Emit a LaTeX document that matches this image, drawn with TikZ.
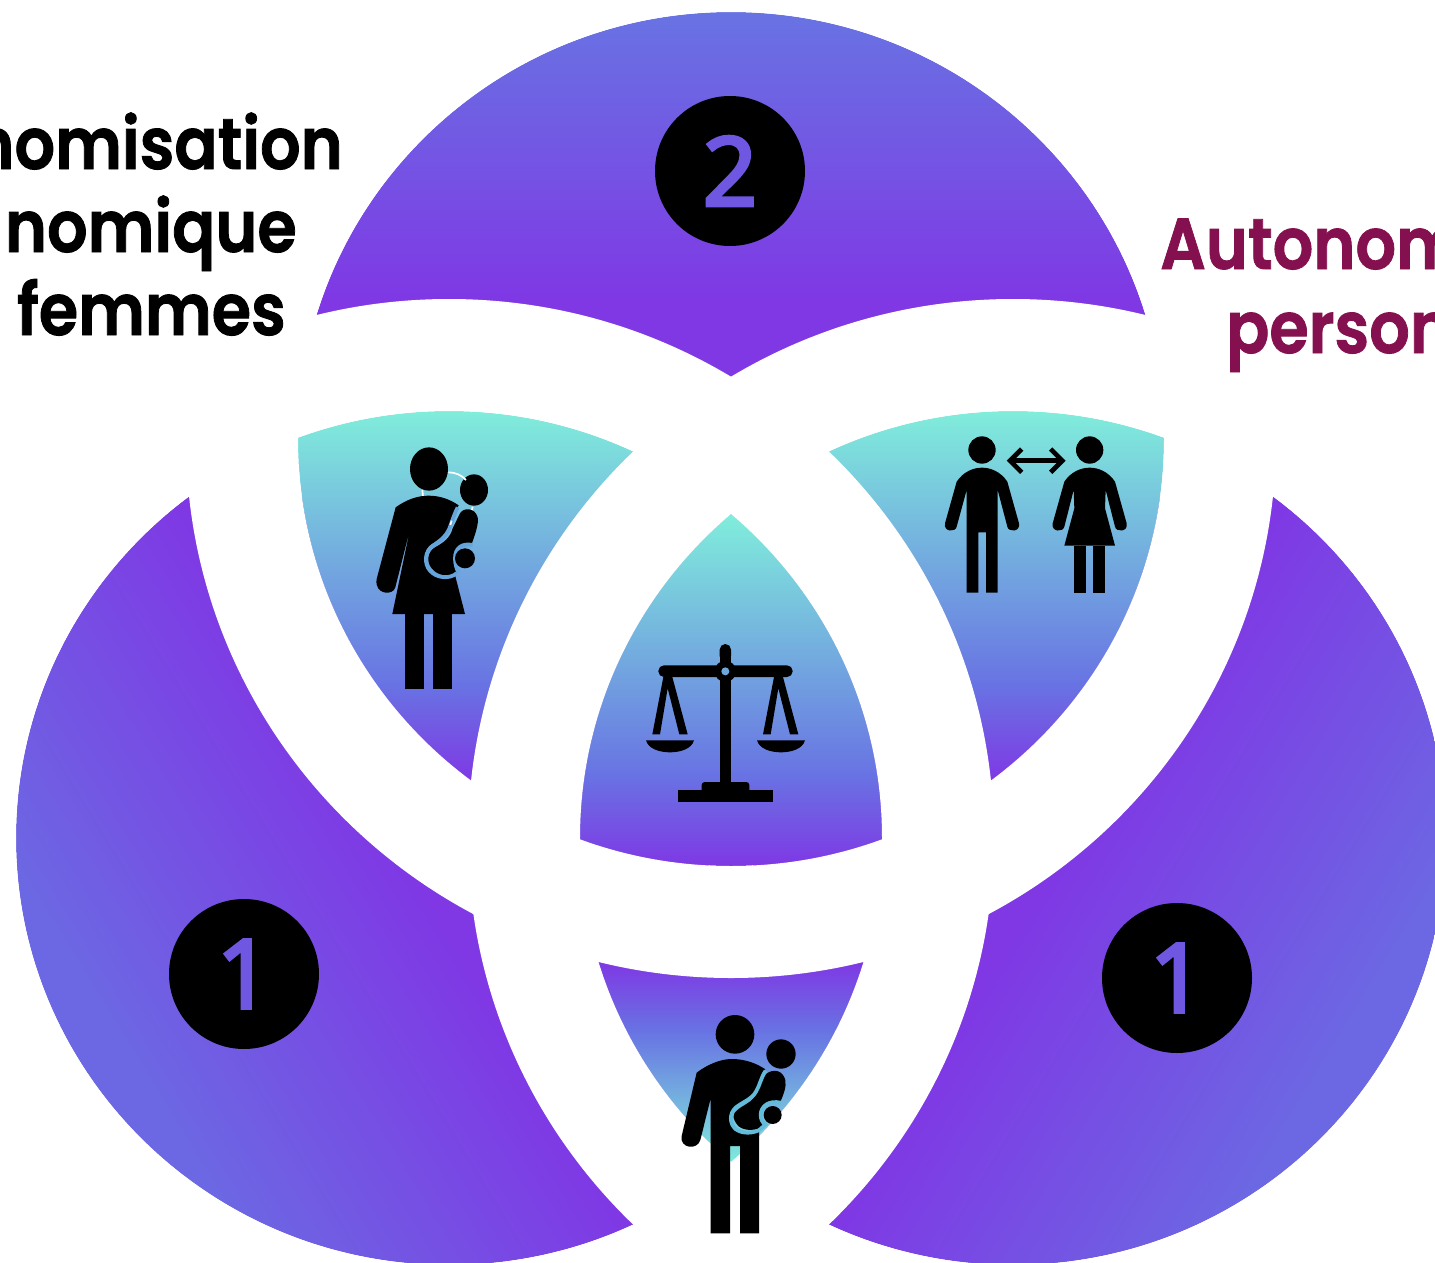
\documentclass[tikz,border=0pt]{standalone}
\usepackage{fontspec}
\setmainfont[UprightFont=* SemiBold,BoldFont=* SemiBold,FakeBold=1.2]{Poppins}
\newfontfamily\numfont[FakeBold=4]{Open Sans}
\definecolor{vpurple}{HTML}{7F38E4}
\definecolor{vblue}{HTML}{6C68E3}
\definecolor{vtopblue}{HTML}{6873E3}
\definecolor{vteal}{HTML}{80EDDB}
\definecolor{wine}{HTML}{85104F}
\definecolor{numviolet}{HTML}{6F57E2}
\definecolor{holeblue}{HTML}{6DA8DC}
\definecolor{cutwoman}{HTML}{65A5DB}
\definecolor{cutman}{HTML}{62BBD9}
\pgfdeclareverticalshading{lobeshade}{100bp}{color(0bp)=(vblue);color(33bp)=(vblue);color(55bp)=(vpurple);color(100bp)=(vpurple)}
\pgfdeclareverticalshading{topshade}{100bp}{color(0bp)=(vpurple);color(35.7bp)=(vpurple);color(75bp)=(vtopblue);color(100bp)=(vtopblue)}
\pgfdeclareverticalshading{tealdown}{100bp}{color(0bp)=(vpurple);color(25bp)=(vpurple);color(38bp)=(vtopblue);color(75bp)=(vteal);color(100bp)=(vteal)}
\pgfdeclareverticalshading{tealup}{100bp}{color(0bp)=(vteal);color(25bp)=(vteal);color(58bp)=(vtopblue);color(75bp)=(vpurple);color(100bp)=(vpurple)}
\tikzset{
  inner/.style={x radius=433,y radius=427},
  outer/.style={x radius=545,y radius=539},
  numdisc/.style={circle,fill=black,minimum size=150pt,inner sep=0pt,text=numviolet,font=\numfont\fontsize{95}{95}\selectfont},
  lab/.style={inner sep=0pt,font=\fontsize{72}{72}\selectfont},
  iconunits/.style={x=0.33333pt,y=-0.33333pt},
  cutline/.style={line width=3.8pt}
}
\newcommand{\squeezed}[1]{\scalebox{0.885}[1]{#1}}
\begin{document}
\begin{tikzpicture}[x=1pt,y=-1pt]
\useasboundingbox (0,0) rectangle (1435,1263);
\coordinate (L) at (449,838);
\coordinate (R) at (1013,838);
\coordinate (T) at (731,439);
% outer lobes
\begin{scope}
  \clip (L) ellipse [inner];
  \shade[shading=lobeshade,shading angle=-58.5] (-61,495) rectangle (709,1265);
\end{scope}
\begin{scope}
  \clip (R) ellipse [inner];
  \shade[shading=lobeshade,shading angle=58.5] (753,495) rectangle (1523,1265);
\end{scope}
\begin{scope}
  \clip (T) ellipse [inner];
  \shade[shading=topshade] (280,12) rectangle (1180,378);
\end{scope}
% lens pieces
\begin{scope}
  \clip (L) ellipse [inner];
  \clip (T) ellipse [inner];
  \shade[shading=tealdown] (280,411) rectangle (731,781);
\end{scope}
\begin{scope}
  \clip (R) ellipse [inner];
  \clip (T) ellipse [inner];
  \shade[shading=tealdown] (731,411) rectangle (1180,781);
\end{scope}
\begin{scope}
  \clip (L) ellipse [inner];
  \clip (R) ellipse [inner];
  \shade[shading=tealup] (560,962) rectangle (900,1165);
\end{scope}
\begin{scope}
  \clip (L) ellipse [inner];
  \clip (R) ellipse [inner];
  \clip (T) ellipse [inner];
  \shade[shading=tealdown] (560,515) rectangle (900,866);
\end{scope}
% white bands
\fill[white,even odd rule] (L) ellipse [outer] (L) ellipse [inner];
\fill[white,even odd rule] (R) ellipse [outer] (R) ellipse [inner];
\fill[white,even odd rule] (T) ellipse [outer] (T) ellipse [inner];
% number discs
\node[numdisc] (two) at (730,171) {2};
\node[numdisc] (oneL) at (244,974) {1};
\node[numdisc] (oneR) at (1177,978) {1};
% labels
\node[lab,anchor=base east] (a1) at (343,169) {\squeezed{nomisation}};
\node[lab,anchor=base east] (a2) at (297,252) {\squeezed{nomique}};
\node[lab,anchor=base east] (a3) at (286,335) {\squeezed{femmes}};
\node[lab,anchor=base west,text=wine] (b1) at (1160,269) {\squeezed{Autonom}};
\node[lab,anchor=base west,text=wine] (b2) at (1226,353) {\squeezed{person}};
% woman with child
\begin{scope}[shift={(360,430)},iconunits]
  \fill (207,117) ellipse [x radius=57,y radius=65];
  \fill (342,180) ellipse [x radius=42,y radius=47];
  \draw[white,line width=1.7pt] (265,127) .. controls (285,127) and (305,135) .. (318,150);
  \draw[white,line width=1.7pt] (187,180) -- (189,198);
  \draw[white,line width=1.7pt] (338,230) -- (335,243);
  \fill (107,232) .. controls (140,208) and (175,197) .. (205,197) .. controls (240,197) and (270,208) .. (296,226)
    .. controls (283,245) and (275,265) .. (268,285) .. controls (258,318) and (235,330) .. (215,342)
    .. controls (190,358) and (188,400) .. (205,420) .. controls (225,445) and (265,455) .. (285,435)
    -- (315,552) -- (97,552) -- (150,297) -- (106,472) .. controls (100,498) and (42,495) .. (50,447) -- cycle;
  \fill (135,552) rectangle (192,778);
  \fill (220,552) rectangle (277,778);
  \fill (300,250) .. controls (310,232) and (345,232) .. (353,262) .. controls (357,280) and (345,315) .. (335,342)
    .. controls (305,335) and (282,355) .. (281,385) .. controls (281,400) and (285,415) .. (292,425)
    .. controls (270,442) and (235,440) .. (215,415) .. controls (198,395) and (203,365) .. (225,352)
    .. controls (250,338) and (270,325) .. (278,295) -- cycle;
  \draw[cutline,cutwoman] (293,232) .. controls (284,250) and (278,268) .. (272,285) .. controls (262,318) and (240,332) .. (222,345)
    .. controls (192,362) and (192,402) .. (210,422) .. controls (230,445) and (268,448) .. (290,430);
  \draw[cutline,cutwoman] (338,345) .. controls (305,338) and (285,355) .. (285,385) .. controls (285,402) and (290,418) .. (296,428);
  \draw[white,line width=1.7pt] (275,272) -- (271,285);
  \fill (315,385) circle [radius=30];
\end{scope}
% man with child
\begin{scope}[shift={(660,1000)},iconunits]
  \fill (225,103) circle [radius=58];
  \fill (363,162) circle [radius=44];
  \fill (110,218) .. controls (140,195) and (180,177) .. (215,177) .. controls (255,177) and (290,190) .. (316,208)
    .. controls (300,230) and (298,250) .. (290,270) .. controls (278,298) and (250,305) .. (232,318)
    .. controls (205,335) and (205,370) .. (225,388) .. controls (245,405) and (275,402) .. (297,392)
    -- (297,700) -- (240,700) -- (240,438) -- (210,438) -- (210,700) -- (152,700) -- (152,295) -- (121,420)
    .. controls (112,452) and (58,445) .. (65,408) -- cycle;
  \fill (318,222) .. controls (340,205) and (368,210) .. (376,240) .. controls (380,260) and (370,285) .. (362,303)
    .. controls (330,297) and (300,320) .. (298,345) .. controls (298,360) and (305,372) .. (313,378)
    .. controls (290,392) and (255,395) .. (235,378) .. controls (215,355) and (218,340) .. (232,330)
    .. controls (250,315) and (268,310) .. (280,295) .. controls (295,280) and (300,250) .. (318,222) -- cycle;
  \draw[cutline,cutman] (317,212) .. controls (303,232) and (300,255) .. (288,275) .. controls (275,298) and (245,308) .. (228,322)
    .. controls (207,340) and (208,372) .. (228,388) .. controls (248,402) and (278,400) .. (298,390);
  \draw[cutline,cutman] (362,308) .. controls (325,300) and (302,320) .. (302,345) .. controls (302,358) and (308,368) .. (316,374) -- (298,390);
  \fill (338,345) circle [radius=27];
\end{scope}
% man and woman
\begin{scope}[shift={(930,425)},iconunits]
  \fill (156,75) circle [radius=41];
  \fill (80,170) .. controls (100,140) and (130,128) .. (156,128) .. controls (182,128) and (212,140) .. (232,170)
    -- (267,295) .. controls (272,322) and (235,322) .. (232,305) -- (203,195) -- (203,503) -- (168,503) -- (168,322)
    -- (145,322) -- (145,503) -- (110,503) -- (110,195) -- (80,305) .. controls (77,322) and (40,322) .. (45,295) -- cycle;
  \fill (479,75) circle [radius=41];
  \fill (403,170) .. controls (423,140) and (453,128) .. (479,128) .. controls (505,128) and (535,140) .. (555,170)
    -- (590,295) .. controls (595,322) and (558,322) .. (555,305) -- (527,195) -- (525,250) -- (555,362) -- (403,362)
    -- (433,250) -- (431,195) -- (403,305) .. controls (400,322) and (363,322) .. (368,295) -- cycle;
  \fill (432,362) rectangle (468,503);
  \fill (490,362) rectangle (526,503);
  \draw[line width=4.7pt] (240,107) -- (397,107);
  \draw[line width=4.7pt] (275,72) -- (240,107) -- (275,142);
  \draw[line width=4.7pt] (362,72) -- (397,107) -- (362,142);
\end{scope}
% scales
\begin{scope}[shift={(635,635)},iconunits]
  \fill[rounded corners=5.6pt] (254,27) rectangle (288,80);
  \fill (254,60) rectangle (288,450);
  \fill[rounded corners=5.6pt] (70,91) rectangle (473,126);
  \fill (271,109) circle [radius=32];
  \fill[holeblue] (271,109) circle [radius=12];
  \fill (52,298) -- (85,126) -- (112,126) -- (158,298) -- (133,298) -- (98,160) -- (75,298) -- cycle;
  \fill (384,298) -- (417,126) -- (444,126) -- (490,298) -- (465,298) -- (430,160) -- (407,298) -- cycle;
  \fill (33,316) -- (177,316) .. controls (170,342) and (135,352) .. (105,352) .. controls (75,352) and (40,342) .. (33,316) -- cycle;
  \fill (366,316) -- (510,316) .. controls (503,342) and (468,352) .. (438,352) .. controls (408,352) and (373,342) .. (366,316) -- cycle;
  \fill[rounded corners=3pt] (200,480) -- (200,441) -- (343,441) -- (343,480) -- cycle;
  \fill (129,465) rectangle (414,500);
\end{scope}
\end{tikzpicture}
\end{document}
